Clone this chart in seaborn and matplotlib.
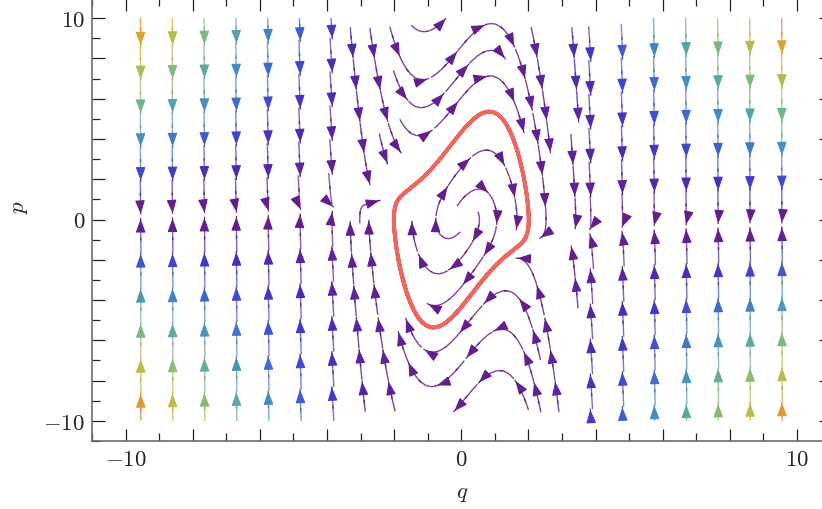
import numpy as np
import matplotlib
matplotlib.use('Agg')
import matplotlib.pyplot as plt
import seaborn as sns
from matplotlib.colors import LinearSegmentedColormap, Normalize

# systeme de van der Pol : q' = p , p' = mu (1 - q^2) p - omega2 q
mu = 2.0
omega2 = 4.0

# couleurs des fleches selon la vitesse
speed_stops = [0, 181, 298, 426, 570, 749, 949, 1166, 1396, 1666, 1800]
stop_colors = ['#651c8e', '#4a2bbd', '#3f46d0', '#3d66d4', '#428ac6', '#55a5a8',
               '#73b884', '#a3c055', '#d0b63c', '#e8902a', '#e67a25']

xtick_labels = ['$-10$', '', '', '', '', '$0$', '', '', '', '', '$10$']
ytick_labels = ['$-10$', '', '', '', '', '$0$', '', '', '', '', '$10$']

sns.set_style('ticks')
plt.rcParams['mathtext.fontset'] = 'cm'

q = np.linspace(-10, 10, 201)
p = np.linspace(-10, 10, 201)
Q, P = np.meshgrid(q, p)
U = P
V = mu * (1 - Q**2) * P - omega2 * Q
speed = np.hypot(U, V)

cmap = LinearSegmentedColormap.from_list(
    'stream', list(zip(np.array(speed_stops) / speed_stops[-1], stop_colors)))
norm = Normalize(0, speed_stops[-1])
head = '-|>,head_length=0.55,head_width=0.2'


def rhs(x, y):
    return y, mu * (1 - x**2) * y - omega2 * x


# cycle limite
dt = 0.002
x, y = 0.5, 0.5
for i in range(20000):
    dx, dy = rhs(x, y)
    x, y = x + dt * dx, y + dt * dy
cyc_q, cyc_p = [x], [y]
for i in range(4000):
    k1 = rhs(x, y)
    k2 = rhs(x + dt / 2 * k1[0], y + dt / 2 * k1[1])
    x, y = x + dt * k2[0], y + dt * k2[1]
    cyc_q.append(x)
    cyc_p.append(y)

# colonnes exterieures : segments qui finissent sur une fleche
left_cols = np.arange(-9.55, -3.3, 0.95)
cols = np.concatenate([left_cols, -left_cols])
tips = []
for c in cols:
    p_line = omega2 * c / (mu * (1 - c**2))
    for k in range(6):
        if p_line + 0.2 + 1.68 * k < 9.8:
            tips.append([c, p_line + 0.2 + 1.68 * k])
        if p_line - 0.35 - 1.74 * k > -9.8:
            tips.append([c, p_line - 0.35 - 1.74 * k])
tips = np.array(tips)

# zone centrale : placement des fleches le long des lignes de courant
sx, sy = 33.57, 20.14      # px par unite, pour l'espacement seulement
h, d_sep, d_test = 2.0, 22.0, 11.0
q_box = 3.5
gap = 0.08                 # distance entre fleches (coordonnees normalisees)
cells = {}


def add_pt(X, Y, lid):
    cells.setdefault((int(X // d_test), int(Y // d_test)), []).append((X, Y, lid))


def near(X, Y, dist, lid):
    ci, cj = int(X // d_test), int(Y // d_test)
    r = int(np.ceil(dist / d_test))
    for i in range(ci - r, ci + r + 1):
        for j in range(cj - r, cj + r + 1):
            for a, b, l in cells.get((i, j), ()):
                if l != lid and (a - X)**2 + (b - Y)**2 < dist**2:
                    return True
    return False


def direction(X, Y, sign):
    u, v = rhs(X / sx, Y / sy)
    dx, dy = u * sx, v * sy
    n = np.hypot(dx, dy)
    if n < 1e-9:
        return None
    return sign * dx / n, sign * dy / n


def trace(X, Y, sign, lid):
    pts = [(X, Y)]
    for k in range(500):
        d1 = direction(X, Y, sign)
        if d1 is None:
            break
        d2 = direction(X + 0.5 * h * d1[0], Y + 0.5 * h * d1[1], sign)
        if d2 is None:
            break
        X, Y = X + h * d2[0], Y + h * d2[1]
        if abs(X / sx) > q_box or abs(Y / sy) > 9.9 or np.hypot(X, Y) < 10:
            break
        if near(X, Y, d_test, lid):
            break
        if len(pts) > 25:
            old = np.array(pts[:-25])
            if np.min((old[:, 0] - X)**2 + (old[:, 1] - Y)**2) < d_test**2:
                break
        pts.append((X, Y))
    return pts


for a, b in zip(cyc_q, cyc_p):
    add_pt(a * sx, b * sy, -1)

centre_tips = []
seed_q = np.arange(-3.3, 3.4, 0.6)
seed_p = np.arange(9.4, -9.5, -1.0)
lid = 0
for p0 in seed_p:
    for q0 in seed_q:
        X0, Y0 = q0 * sx, p0 * sy
        if near(X0, Y0, d_sep, -99):
            continue
        lid += 1
        line = trace(X0, Y0, -1, lid)[::-1] + trace(X0, Y0, 1, lid)[1:]
        line = np.array(line)
        ds = np.hypot(np.diff(line[:, 0]) / sx, np.diff(line[:, 1]) / sy) / 20
        s = np.concatenate([[0], np.cumsum(ds)])
        n_tip = int(s[-1] // gap)
        if n_tip == 0:
            continue
        for k in range(1, n_tip + 1):
            j = np.searchsorted(s, k * gap)
            centre_tips.append([line[j, 0] / sx, line[j, 1] / sy])
        for X, Y in line[:np.searchsorted(s, n_tip * gap) + 1]:
            add_pt(X, Y, lid)
centre_tips = np.array(centre_tips)

fig = plt.figure(figsize=(8.22, 5.09), dpi=100)
ax = fig.add_axes([92 / 822, 68 / 509, 738.6 / 822, 443 / 509])

s1 = ax.streamplot(q, p, U, V, color=speed, cmap=cmap, norm=norm,
                   start_points=tips, integration_direction='backward',
                   maxlength=0.082, minlength=0.02, broken_streamlines=False,
                   linewidth=1.0, arrowstyle='-', density=3)
s1.lines.set_alpha(0.75)
s2 = ax.streamplot(q, p, U, V, color=speed, cmap=cmap, norm=norm,
                   start_points=centre_tips, integration_direction='backward',
                   maxlength=gap - 0.003, minlength=0.02, broken_streamlines=False,
                   linewidth=1.0, arrowstyle='-', density=3)
s2.lines.set_alpha(0.85)
ax.streamplot(q, p, U, V, color=speed, cmap=cmap, norm=norm,
              start_points=np.vstack([tips, centre_tips]),
              integration_direction='forward',
              maxlength=0.012, minlength=0.006, broken_streamlines=False,
              linewidth=0.8, arrowsize=1.5, arrowstyle=head, density=6)

ax.plot(cyc_q, cyc_p, color='#f4645f', lw=2.8, solid_capstyle='round', zorder=5)

ax.set_xlim(-11, 11)
ax.set_ylim(-11, 11)
ax.set_xticks(np.arange(-10, 11, 2), labels=xtick_labels)
ax.set_yticks(np.arange(-10, 11, 2), labels=ytick_labels)
ax.set_xticks(np.arange(-11, 12, 1), minor=True)
ax.set_yticks(np.arange(-11, 12, 1), minor=True)
ax.tick_params(which='both', direction='in', top=True, right=True,
               color='#222222', width=0.9, labelsize=16.5)
ax.tick_params(which='major', length=9, pad=5)
ax.tick_params(which='minor', length=5.5)
for side in ['left', 'bottom']:
    ax.spines[side].set_color('#6b6b6b')
    ax.spines[side].set_linewidth(1.2)
for side in ['top', 'right']:
    ax.spines[side].set_visible(False)

fig.text(462 / 822, 1 - 492 / 509, '$q$', fontsize=16.5, ha='center', va='center')
fig.text(18 / 822, 1 - 207 / 509, '$p$', fontsize=16.5, ha='center', va='center',
         rotation=90)

plt.savefig('out.png', dpi=100)
